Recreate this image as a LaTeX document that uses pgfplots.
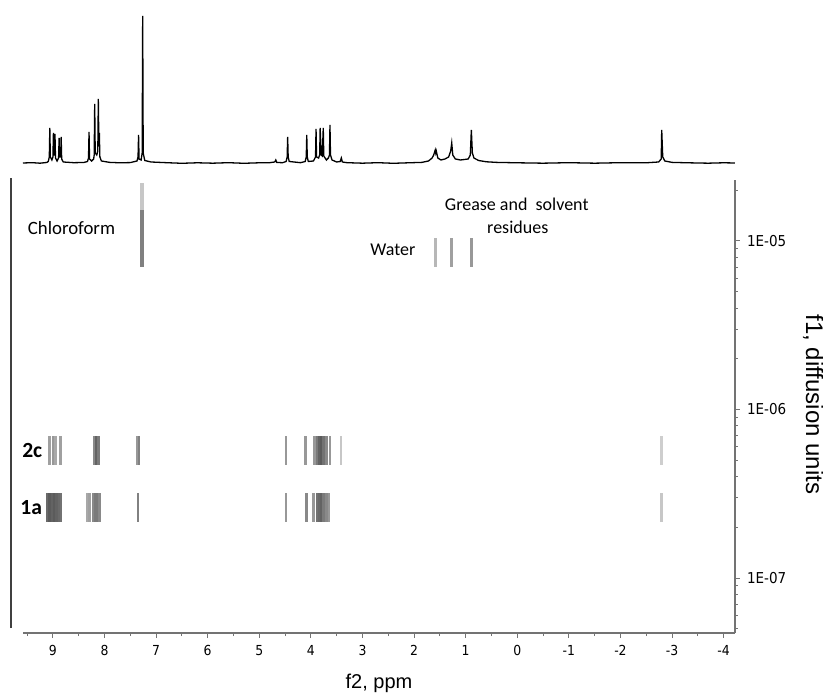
\documentclass[border=0pt]{standalone}
\usepackage{fontspec}
\usepackage{pgfplots}
\usepackage{pgfplotstable}
\pgfplotsset{compat=1.18}
\setmainfont{Carlito}
\newfontfamily\arialf{Liberation Sans}
\newfontfamily\tickf[FakeStretch=0.9]{DejaVu Sans}

% DOSY stripes: x = ppm, y = diffusion centre, s = darkness (0 light .. 1 dark)
\pgfplotstableread{
x      y        s
9.07   5.68e-7  0.45
9.00   5.68e-7  0.50
8.95   5.68e-7  0.40
8.85   5.68e-7  0.45
8.20   5.68e-7  0.60
8.16   5.68e-7  0.85
8.12   5.68e-7  0.70
7.36   5.68e-7  0.50
7.33   5.68e-7  0.65
4.48   5.68e-7  0.50
4.10   5.68e-7  0.50
3.93   5.68e-7  0.50
3.88   5.68e-7  0.70
3.83   5.68e-7  0.85
3.79   5.68e-7  0.90
3.75   5.68e-7  0.75
3.70   5.68e-7  0.60
3.63   5.68e-7  0.50
3.42   5.68e-7  0.20
-2.80  5.68e-7  0.15
9.11   2.62e-7  0.80
9.07   2.62e-7  0.90
9.02   2.62e-7  0.85
8.98   2.62e-7  0.90
8.93   2.62e-7  0.85
8.88   2.62e-7  0.80
8.84   2.62e-7  0.75
8.33   2.62e-7  0.40
8.29   2.62e-7  0.45
8.22   2.62e-7  0.60
8.18   2.62e-7  0.70
8.14   2.62e-7  0.70
8.10   2.62e-7  0.60
7.35   2.62e-7  0.65
4.48   2.62e-7  0.50
4.09   2.62e-7  0.60
3.95   2.62e-7  0.50
3.88   2.62e-7  0.75
3.84   2.62e-7  0.80
3.80   2.62e-7  0.85
3.76   2.62e-7  0.70
3.70   2.62e-7  0.60
3.65   2.62e-7  0.50
-2.80  2.62e-7  0.20
1.58   8.54e-6  0.30
1.27   8.54e-6  0.45
0.89   8.54e-6  0.50
}\dosytable

\begin{document}
\begin{tikzpicture}
\useasboundingbox (-11.5pt,-30.5pt) rectangle (400pt,316.5pt);

% 1D proton spectrum on top
\begin{axis}[
  at={(0,231.5pt)}, anchor=south west,
  width=356pt, height=80pt, scale only axis,
  xmin=-4.22, xmax=9.58, x dir=reverse,
  ymin=-7, ymax=153,
  hide axis, clip=false,
]
\addplot[black, line width=0.65pt] coordinates {
(9.58,0) (9.40,0.3) (9.25,-0.2) (9.12,0.5) (9.09,1.5) (9.07,6) (9.06,35) (9.05,6)
(9.02,3) (9.00,6) (8.99,30) (8.98,8) (8.97,8) (8.96,29) (8.95,5) (8.92,2)
(8.89,5) (8.88,25) (8.87,6) (8.85,6) (8.84,26) (8.83,4) (8.80,1) (8.60,0.3)
(8.40,0.5) (8.33,1.5) (8.31,5) (8.30,31) (8.29,4) (8.25,2) (8.21,4) (8.20,8)
(8.19,59) (8.18,10) (8.15,8) (8.13,12) (8.12,64) (8.11,22) (8.10,30) (8.09,6)
(8.06,2) (7.90,0.6) (7.70,0.2) (7.50,0.4) (7.37,2) (7.35,6) (7.34,28) (7.33,4)
(7.29,3) (7.27,10) (7.26,147) (7.25,10) (7.22,2.5) (7.10,1) (6.80,0.3) (6.50,-0.3)
(6.20,0.2) (5.90,-0.2) (5.60,0.3) (5.30,-0.3) (5.00,0.2) (4.80,0.3) (4.70,1) (4.68,3)
(4.66,0.5) (4.55,0.3) (4.48,1.5) (4.46,6) (4.45,26) (4.44,6) (4.42,1.5) (4.20,0.3)
(4.11,1.5) (4.09,6) (4.08,28) (4.07,6) (4.05,1.5) (3.95,2) (3.91,6) (3.90,34)
(3.89,6) (3.85,5) (3.83,8) (3.82,35) (3.80,8) (3.78,7) (3.76,35) (3.75,7)
(3.70,3) (3.66,5) (3.64,8) (3.63,38) (3.62,8) (3.59,3) (3.50,1) (3.43,1.5)
(3.41,5) (3.39,1) (3.30,0.3) (3.00,-0.2) (2.70,0.3) (2.40,-0.3) (2.10,0.2) (1.85,0.6)
(1.72,2) (1.65,5) (1.62,8) (1.59,13) (1.58,10) (1.57,12) (1.54,5) (1.48,3)
(1.40,4) (1.33,6) (1.29,12) (1.27,20) (1.25,8) (1.20,4) (1.10,3) (0.95,4)
(0.91,8) (0.89,33) (0.87,10) (0.84,5) (0.75,2.5) (0.60,1.2) (0.40,0.6) (0.00,0.2)
(-0.50,-0.2) (-1.00,0.3) (-1.50,-0.2) (-2.00,0.3) (-2.50,0.2) (-2.74,1) (-2.79,4) (-2.80,33)
(-2.82,6) (-2.86,2) (-3.00,0.6) (-3.30,0.2) (-3.70,-0.2) (-4.00,0.2) (-4.22,0)
};
\end{axis}

% DOSY map
\begin{axis}[
  at={(0,0)}, anchor=south west,
  width=356pt, height=226.5pt, scale only axis,
  xmin=-4.22, xmax=9.58, x dir=reverse,
  ymode=log, ymin=4.72e-8, ymax=2.30e-5,
  axis x line*=bottom, axis y line*=right,
  axis line style={draw=black!55, line width=0.6pt},
  tick style={draw=black!55, line width=0.5pt},
  tick align=outside,
  major tick length=2.5pt, minor tick length=1.5pt,
  xtick={-4,-3,...,9}, xticklabels={-4,-3,-2,-1,0,1,2,3,4,5,6,7,8,9},
  minor xtick={-3.5,-2.5,...,9.5},
  ytick={1e-7,1e-6,1e-5}, yticklabels={1E-07,1E-06,1E-05},
  minor ytick={5e-8,6e-8,7e-8,8e-8,9e-8,2e-7,3e-7,4e-7,5e-7,6e-7,7e-7,8e-7,9e-7,
               2e-6,3e-6,4e-6,5e-6,6e-6,7e-6,8e-6,9e-6,2e-5},
  tick label style={font=\tickf\fontsize{6.9}{8}\selectfont, text=black},
  yticklabel style={font=\tickf\fontsize{7.5}{9}\selectfont},
  clip=false,
  colormap={dosy}{gray(0cm)=(0.9); gray(1cm)=(0.3)},
  point meta min=0, point meta max=1,
]
\addplot[scatter, only marks, mark=|, mark size=7.25pt,
  mark options={line width=1.3pt}, point meta=explicit,
  scatter/use mapped color={draw=mapped color}]
  table[x=x, y=y, meta=s] {\dosytable};
% chloroform
\addplot[draw=black!50, line width=2pt] coordinates {(7.27,7.01e-6) (7.27,1.53e-5)};
\addplot[draw=black!22, line width=2pt] coordinates {(7.27,1.53e-5) (7.27,2.21e-5)};

\draw[black!75, line width=0.6pt] ([xshift=-6pt]rel axis cs:0,0.011) -- ([xshift=-6pt]rel axis cs:0,1.004);

\node[font=\fontsize{9.4}{10}\selectfont] at (axis cs:8.64,1.19e-5) {Chloroform};
\node[font=\fontsize{9}{10}\selectfont] at (axis cs:0.01,1.64e-5) {Grease and\ \ solvent};
\node[font=\fontsize{9}{10}\selectfont] at (axis cs:-0.01,1.21e-5) {residues};
\node[font=\fontsize{9}{10}\selectfont] at (axis cs:2.41,8.84e-6) {Water};
\node[font=\bfseries\fontsize{10.8}{12}\selectfont] at (axis cs:9.40,5.68e-7) {2c};
\node[font=\bfseries\fontsize{10.8}{12}\selectfont] at (axis cs:9.42,2.62e-7) {1a};

\node[font=\arialf\fontsize{10}{12}\selectfont] at (rel axis cs:0.5,-0.11) {f2, ppm};
\node[font=\arialf\fontsize{12}{14}\selectfont, rotate=-90] at (rel axis cs:1.11,0.505) {f1, diffusion units};
\end{axis}
\end{tikzpicture}
\end{document}
